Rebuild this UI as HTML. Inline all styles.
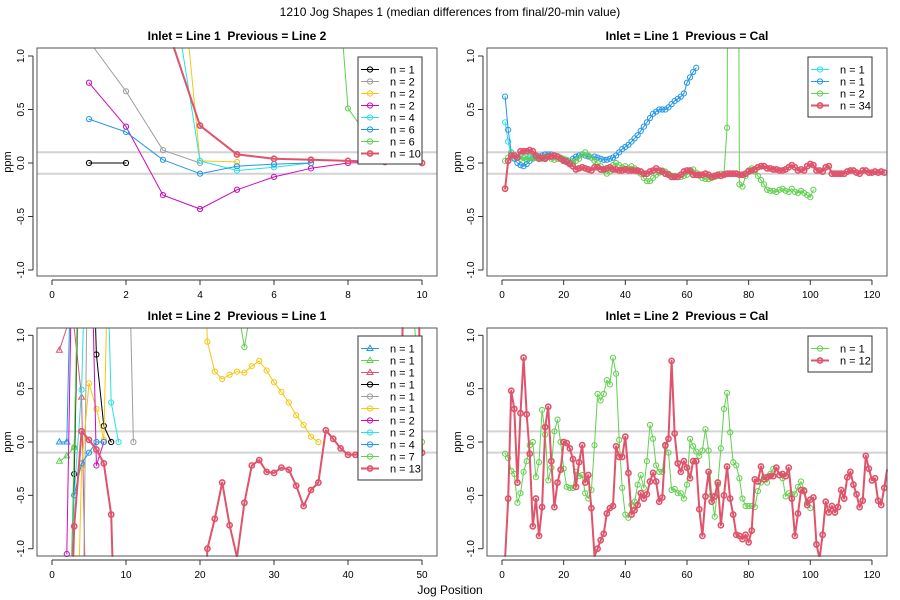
<!DOCTYPE html>
<html><head><meta charset="utf-8"><style>
html,body{margin:0;padding:0;background:#fff;width:900px;height:600px;overflow:hidden}
svg{display:block;font-family:"Liberation Sans",Arial,sans-serif}
text{white-space:pre}
</style></head><body>
<svg id="c" width="900" height="600" xmlns="http://www.w3.org/2000/svg">
<text x="450" y="594" text-anchor="middle" font-size="12">Jog Position</text>
<text x="450" y="16" text-anchor="middle" font-size="12">1210 Jog Shapes 1 (median differences from final/20-min value)</text>
</svg>
<script>
// ---- Panel 1 data (Inlet = Line 1, Previous = Line 2), x starts at 1 ----
const p1Black=[0,0];
const p1Gray=[1.14,0.67,0.12,0.0];
const p1Yellow=[null,null,3.6,0.02,0.01];
const p1Magenta=[0.75,0.34,-0.30,-0.43,-0.25,-0.13,-0.05,0.0,0.01,0.0];
const p1Cyan=[null,null,2.2,0.02,-0.07,-0.04,0.0];
const p1Blue=[0.41,0.29,0.03,-0.10,-0.03,-0.01,0.0];
const p1Green=[null,null,null,null,null,null,5,0.51,0.03,0.0];
const p1Red=[null,null,1.38,0.35,0.08,0.04,0.03,0.02,0.01,0.0];
const p1Labels=["n = 1","n = 2","n = 2","n = 2","n = 4","n = 6","n = 6","n = 10"];
// ---- Panel 2 data (Inlet = Line 1, Previous = Cal) ----
const p2Cyan=[0.38,0.2,0.08,0.05,0.07,0.06,0.05,0.04,0.06,0.05,0.06,0.05];
const p2Blue=[0.62,0.31,0.1,0.04,0.0,-0.02,-0.03,-0.01,0.02,0.04,0.05,0.06,0.07,0.08,0.08,0.08,0.07,0.06,0.05,0.03,0.02,0.0,0.04,0.06,0.07,0.08,0.07,0.06,0.05,0.06,0.05,0.04,0.03,0.03,0.04,0.05,0.07,0.1,0.13,0.15,0.17,0.2,0.23,0.26,0.3,0.34,0.38,0.42,0.46,0.48,0.5,0.5,0.5,0.52,0.55,0.58,0.6,0.62,0.65,0.75,0.8,0.85,0.89];
const p2Green=[0.02,0.05,0.1,0.07,0.05,0.04,0.05,0.03,0.05,0.04,0.06,0.05,0.04,0.05,0.06,0.04,0.03,0.04,0.05,0.04,0.03,0.02,0.0,0.02,0.04,0.08,0.1,0.07,0.05,0.02,0.0,-0.03,-0.07,-0.1,-0.08,-0.02,0.0,-0.02,-0.04,-0.03,-0.05,-0.03,-0.05,-0.08,-0.1,-0.14,-0.17,-0.17,-0.14,-0.11,-0.09,-0.07,-0.08,-0.1,-0.12,-0.12,-0.13,-0.13,-0.12,-0.11,-0.08,-0.06,-0.09,-0.12,-0.14,-0.15,-0.15,-0.14,-0.13,-0.12,-0.1,-0.1,0.33,8,8,8,-0.2,-0.22,-0.12,-0.07,-0.05,-0.08,-0.12,-0.16,-0.2,-0.25,-0.26,-0.26,-0.27,-0.25,-0.24,-0.26,-0.27,-0.24,-0.27,-0.28,-0.26,-0.28,-0.3,-0.32,-0.25];
const p2Red=[-0.24,0.02,0.07,0.07,0.05,0.11,0.11,0.11,0.12,0.11,0.07,0.04,0.05,0.04,0.06,0.06,0.07,0.06,0.04,0.02,0.01,-0.01,-0.03,-0.06,-0.05,-0.04,-0.05,-0.06,-0.07,-0.04,-0.04,-0.06,-0.06,-0.05,-0.04,-0.06,-0.06,-0.07,-0.07,-0.06,-0.07,-0.07,-0.07,-0.07,-0.08,-0.1,-0.1,-0.08,-0.07,-0.05,-0.07,-0.08,-0.1,-0.11,-0.13,-0.13,-0.13,-0.11,-0.08,-0.07,-0.07,-0.11,-0.11,-0.11,-0.11,-0.1,-0.11,-0.13,-0.12,-0.11,-0.12,-0.11,-0.1,-0.1,-0.1,-0.1,-0.11,-0.11,-0.1,-0.08,-0.07,-0.06,-0.04,-0.03,-0.03,-0.05,-0.05,-0.06,-0.06,-0.07,-0.07,-0.06,-0.04,-0.02,-0.04,-0.07,-0.06,-0.07,-0.03,-0.01,-0.02,-0.07,-0.07,-0.08,-0.04,-0.03,-0.1,-0.1,-0.1,-0.1,-0.1,-0.08,-0.07,-0.07,-0.09,-0.1,-0.07,-0.07,-0.09,-0.09,-0.08,-0.09,-0.08,-0.09];
const p2Labels=["n = 1","n = 1","n = 2","n = 34"];
// ---- Panel 3 data (Inlet = Line 2, Previous = Line 1) ----
const p3BlueTri=[0,0,3];
const p3GreenTri=[-0.18,-0.13,-0.05,3];
const p3PinkTri=[0.86,1.07,1.07,0.42,-3];
const p3Black=[null,-3,-0.3,3,3,0.82,0.15,0.0];
const p3Gray=[null,null,null,-3,3,3,3,3,3,3,0.0];
const p3Yellow=[null,null,-3,-0.23,0.55,0.31,0.02,3,3,3,3,3,3,3,3,3,3,3,3,3,0.94,0.66,0.59,0.63,0.66,0.65,0.71,0.76,0.67,0.56,0.47,0.37,0.25,0.16,0.05,0.0];
const p3Magenta=[null,-1.05,3,3,3,-0.22,0.0];
const p3Cyan=[null,-3,-0.5,0.49,3,3,3,0.37,0.0];
const p3Blue=[null,null,-0.5,-0.2,-0.1,0.0,0.0];
const p3Green=[null,-3,-0.05,3,3,3,3,3,3,3,3,3,3,3,3,3,3,3,3,3,3,3,3,3,1.3,0.89,1.3,1.1,1.1,1.1,1.1,1.1,1.1,1.1,1.1,1.1,1.1,1.1,1.1,1.1,1.1,1.1,1.1,1.1,1.1,1.1,1.1,1.1,1.1,0.0];
const p3Red=[null,-3,-0.79,0.1,0.02,-0.07,-0.2,-0.68,-3,-3,-3,-3,-3,-3,-3,-3,-3,-3,-3,-3,-1.0,-0.72,-0.38,-0.78,-1.08,-0.57,-0.22,-0.17,-0.28,-0.29,-0.24,-0.26,-0.41,-0.6,-0.45,-0.38,0.11,0.03,-0.06,-0.12,-0.12,-0.1,-0.1,-0.1,-0.1,-0.1,-0.1,3,3,-0.1];
const p3Labels=["n = 1","n = 1","n = 1","n = 1","n = 1","n = 1","n = 2","n = 2","n = 4","n = 7","n = 13"];
// ---- Panel 4 data (Inlet = Line 2, Previous = Cal) ----
const p4Green=[-0.11,-0.15,-0.27,-0.3,-0.57,-0.48,-0.28,-0.18,-0.03,0.0,-0.33,-0.19,0.3,0.07,-0.36,-0.24,0.1,0.21,0.0,-0.25,-0.42,-0.43,-0.43,-0.28,-0.32,-0.31,-0.48,-0.53,-0.45,-0.03,0.45,0.39,0.45,0.58,0.54,0.79,0.64,0.02,-0.43,-0.68,-0.71,-0.59,-0.56,-0.4,-0.31,-0.43,-0.18,0.16,0.03,-0.22,-0.28,-0.28,-0.04,-0.1,-0.45,-0.44,-0.48,-0.48,-0.53,-0.4,0.03,-0.04,-0.09,-0.13,-0.08,0.12,-0.08,-0.5,-0.7,-0.4,-0.06,0.31,0.46,0.09,-0.19,-0.22,-0.34,-0.53,-0.6,-0.6,-0.6,-0.61,-0.46,-0.38,-0.33,-0.38,-0.3,-0.25,-0.24,-0.31,-0.34,-0.51,-0.48,-0.49,-0.49,-0.42,-0.37,-0.45,-0.57,-0.62];
const p4Red=[-1.09,-0.53,0.48,0.31,-0.38,0.27,0.79,0.26,-0.11,-0.79,-0.53,-0.88,-0.61,0.14,0.33,-0.18,-0.61,-0.38,-0.26,0.0,-0.01,-0.06,-0.16,-0.42,-0.19,-0.03,-0.38,-0.31,-0.62,-1.07,-1.0,-0.92,-0.86,-0.67,-0.62,-0.6,-0.04,-0.14,-0.14,0.05,-0.29,-0.68,-0.64,-0.59,-0.48,-0.53,-0.49,-0.37,-0.29,-0.37,-0.56,-0.52,-0.03,0.03,0.76,0.08,-0.2,-0.28,-0.18,-0.24,-0.34,-0.18,-0.18,-0.63,-0.88,-0.51,-0.28,-0.56,-0.51,-0.38,-0.78,-0.5,-0.23,-0.53,-0.68,-0.87,-0.88,-0.91,-0.87,-0.94,-0.83,-0.35,-0.37,-0.23,-0.35,-0.33,-0.32,-0.32,-0.24,-0.31,-0.3,-0.32,-0.24,-0.53,-0.88,-0.67,-0.45,-0.46,-0.59,-0.54,-0.52,-0.96,-1.09,-0.87,-0.56,-0.66,-0.6,-0.66,-0.61,-0.45,-0.53,-0.33,-0.28,-0.4,-0.49,-0.61,-0.55,-0.13,-0.25,-0.36,-0.34,-0.55,-0.59,-0.43,-0.24];
const p4Labels=["n = 1","n = 12"];
const xTicksSmall=[0,2,4,6,8,10];
const xTicksLong=[0,20,40,60,80,100,120];
const xTicksMid=[0,10,20,30,40,50];
const yTicks=[-1.0,-0.5,0.0,0.5,1.0];

const BK="#000000",GR="#9E9E9E",YE="#F5C710",MA="#CD0BBC",CY="#28E2E5",BL="#2297E6",GN="#61D04F",RD="#DF536B";
const NS="http://www.w3.org/2000/svg";
const svg=document.getElementById('c');
function el(t,a,p){const e=document.createElementNS(NS,t);for(const k in a)e.setAttribute(k,a[k]);(p||svg).appendChild(e);return e;}

const panels=[
 {id:'p1',title:'Inlet = Line 1  Previous = Line 2',bx:37,by:48,bw:400,bh:228,x0:52,xs:37.0,y0:163,ys:107,ticks:xTicksSmall,
  leg:{x:358,y:57,w:64,h:107},labels:p1Labels,
  series:[[p1Black,BK,1,'o'],[p1Gray,GR,1,'o'],[p1Yellow,YE,1,'o'],[p1Magenta,MA,1,'o'],[p1Cyan,CY,1,'o'],[p1Blue,BL,1,'o'],[p1Green,GN,1,'o'],[p1Red,RD,2,'o']]},
 {id:'p2',title:'Inlet = Line 1  Previous = Cal',bx:487,by:48,bw:400,bh:228,x0:502,xs:3.083,y0:163,ys:107,ticks:xTicksLong,
  leg:{x:808,y:57,w:64,h:60},labels:p2Labels,
  series:[[p2Cyan,CY,1,'o'],[p2Blue,BL,1,'o'],[p2Green,GN,1,'o'],[p2Red,RD,2,'o']]},
 {id:'p3',title:'Inlet = Line 2  Previous = Line 1',bx:37,by:328,bw:400,bh:228,x0:52,xs:7.4,y0:442,ys:106.7,ticks:xTicksMid,
  leg:{x:358,y:336,w:64,h:144},labels:p3Labels,
  series:[[p3BlueTri,BL,1,'t'],[p3GreenTri,GN,1,'t'],[p3PinkTri,RD,1,'t'],[p3Black,BK,1,'o'],[p3Gray,GR,1,'o'],[p3Yellow,YE,1,'o'],[p3Magenta,MA,1,'o'],[p3Cyan,CY,1,'o'],[p3Blue,BL,1,'o'],[p3Green,GN,1,'o'],[p3Red,RD,2,'o']]},
 {id:'p4',title:'Inlet = Line 2  Previous = Cal',bx:487,by:328,bw:400,bh:228,x0:502,xs:3.083,y0:442,ys:106.7,ticks:xTicksLong,
  leg:{x:808,y:336,w:64,h:36},labels:p4Labels,
  series:[[p4Green,GN,1,'o'],[p4Red,RD,2,'o']]}
];
function marker(g,x,y,col,lw,type){
  if(type==='t'){return el('polygon',{points:`${x},${y-3.2} ${x-3},${y+2} ${x+3},${y+2}`,fill:'none',stroke:col,'stroke-width':1},g);}
  return el('circle',{cx:x,cy:y,r:2.6,fill:'none',stroke:col,'stroke-width':lw>1?1.6:1},g);
}
// clip a segment to the box (Liang-Barsky)
function clipSeg(x1,y1,x2,y2,b){
  let t0=0,t1=1;const dx=x2-x1,dy=y2-y1;
  const P=[-dx,dx,-dy,dy],Q=[x1-b.x1,b.x2-x1,y1-b.y1,b.y2-y1];
  for(let i=0;i<4;i++){
    if(P[i]===0){if(Q[i]<0)return null;}
    else{const r=Q[i]/P[i];if(P[i]<0){if(r>t1)return null;if(r>t0)t0=r;}else{if(r<t0)return null;if(r<t1)t1=r;}}
  }
  return [x1+t0*dx,y1+t0*dy,x1+t1*dx,y1+t1*dy];
}
panels.forEach(p=>{
  const X=v=>p.x0+p.xs*v, Y=v=>p.y0-p.ys*v;
  const box={x1:p.bx,y1:p.by,x2:p.bx+p.bw,y2:p.by+p.bh};
  const g=el('g',{});
  
  
  const t=el('text',{x:p.bx+p.bw/2,y:p.by-8,'text-anchor':'middle','font-size':12,'font-weight':'bold'},g);
  t.textContent=p.title;
  
  
  [0.1,-0.1].forEach(v=>{const l=el('line',{x1:p.bx,x2:p.bx+p.bw,y1:Y(v),y2:Y(v),stroke:'#d3d3d3','stroke-width':2},g);
    
    });
  p.series.forEach((s,si)=>{
    const [vals,col,lw,type]=s;
    const sgg=el('g',{},g);
    
    
    let d='';
    for(let i=0;i<vals.length-1;i++){
      if(vals[i]===null||vals[i+1]===null)continue;
      const c=clipSeg(X(i+1),Y(vals[i]),X(i+2),Y(vals[i+1]),box);
      if(c)d+='M'+c[0].toFixed(1)+','+c[1].toFixed(1)+'L'+c[2].toFixed(1)+','+c[3].toFixed(1);
    }
    if(d)el('path',{d:d,fill:'none',stroke:col,'stroke-width':lw,'stroke-linecap':'round'},sgg);
    vals.forEach((v,i)=>{
      if(v===null)return;
      const px=X(i+1),py=Y(v);
      if(py<box.y1||py>box.y2||px<box.x1||px>box.x2)return;
      const m=marker(sgg,px,py,col,lw,type);
      
      });
  });
  el('rect',{x:p.bx,y:p.by,width:p.bw,height:p.bh,fill:'none',stroke:'#555','stroke-width':1},g);
  const bottom=p.by+p.bh;
  el('line',{x1:X(p.ticks[0]),x2:X(p.ticks[p.ticks.length-1]),y1:bottom+4,y2:bottom+4,stroke:'#333'},g);
  p.ticks.forEach(v=>{
    el('line',{x1:X(v),x2:X(v),y1:bottom+4,y2:bottom+9,stroke:'#333'},g);
    const tx=el('text',{x:X(v),y:bottom+22,'text-anchor':'middle','font-size':10},g);tx.textContent=v;
    
    
  });
  el('line',{x1:p.bx-4,x2:p.bx-4,y1:Y(1),y2:Y(-1),stroke:'#333'},g);
  yTicks.forEach(v=>{
    el('line',{x1:p.bx-9,x2:p.bx-4,y1:Y(v),y2:Y(v),stroke:'#333'},g);
    const tx=el('text',{x:p.bx-13,y:Y(v),'text-anchor':'middle','font-size':10,transform:`rotate(-90 ${p.bx-13} ${Y(v)})`},g);
    tx.textContent=v.toFixed(1);
    
    
  });
  const yl=el('text',{x:p.bx-26,y:p.by+p.bh/2,'text-anchor':'middle','font-size':11,transform:`rotate(-90 ${p.bx-26} ${p.by+p.bh/2})`},g);
  yl.textContent='ppm';
  
  
  const L=p.leg;
  const lg=el('g',{},g);
  
  
  el('rect',{x:L.x,y:L.y,width:L.w,height:L.h,fill:'#fff',stroke:'#333','stroke-width':1},lg);
  p.series.forEach((s,i)=>{
    const ry=L.y+12.5+i*12;
    const e=el('g',{},lg);
    
    
    el('line',{x1:L.x+3,x2:L.x+21,y1:ry,y2:ry,stroke:s[1],'stroke-width':s[2]},e);
    marker(e,L.x+12,ry,s[1],s[2],s[3]);
    const tt=el('text',{x:L.x+32,y:ry+4,'font-size':11},e);tt.textContent=p.labels[i];
  });
});
</script>
</body></html>
